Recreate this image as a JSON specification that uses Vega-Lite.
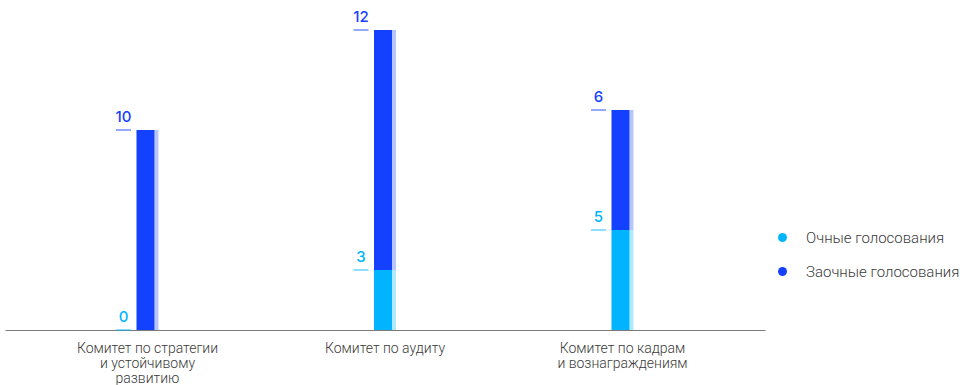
{
  "$schema": "https://vega.github.io/schema/vega-lite/v6.json",
  "autosize": "none",
  "width": 760,
  "height": 300,
  "padding": {"left": 5, "top": 30, "right": 201, "bottom": 55},
  "background": "white",
  "config": {"view": {"stroke": null}},
  "data": {
    "values": [
      {"committee": "Комитет по стратегии|и устойчивому|развитию", "type": "Очные голосования", "ord": 1, "value": 0},
      {"committee": "Комитет по стратегии|и устойчивому|развитию", "type": "Заочные голосования", "ord": 2, "value": 10},
      {"committee": "Комитет по аудиту", "type": "Очные голосования", "ord": 1, "value": 3},
      {"committee": "Комитет по аудиту", "type": "Заочные голосования", "ord": 2, "value": 12},
      {"committee": "Комитет по кадрам|и вознаграждениям", "type": "Очные голосования", "ord": 1, "value": 5},
      {"committee": "Комитет по кадрам|и вознаграждениям", "type": "Заочные голосования", "ord": 2, "value": 6}
    ]
  },
  "transform": [
    {"stack": "value", "groupby": ["committee"], "sort": [{"field": "ord", "order": "ascending"}], "as": ["y0", "y1"]}
  ],
  "encoding": {
    "x": {
      "field": "committee", "type": "nominal", "sort": null,
      "scale": {"paddingInner": 0, "paddingOuter": 0.1},
      "axis": {
        "title": null, "labelAngle": 0, "ticks": false, "domainColor": "#7a7a7a", "domainWidth": 1,
        "labelExpr": "split(datum.value, '|')", "labelFont": "Roboto", "labelFontSize": 14, "labelFontWeight": 300,
        "labelColor": "#3a3a3a", "labelPadding": 11, "labelLineHeight": 15
      }
    },
    "y": {"field": "y1", "type": "quantitative", "scale": {"domain": [0, 15], "nice": false, "zero": true}, "axis": null},
    "color": {
      "field": "type", "type": "nominal",
      "scale": {"domain": ["Очные голосования", "Заочные голосования"], "range": ["#00b4ff", "#1440ff"]},
      "legend": null
    }
  },
  "layer": [
    {
      "mark": {"type": "bar", "width": 18, "xOffset": -2},
      "encoding": {
        "y2": {"field": "y0"},
        "color": {
          "field": "type", "type": "nominal",
          "scale": {"domain": ["Очные голосования", "Заочные голосования"], "range": ["#00b4ff", "#1440ff"]},
          "legend": {
            "title": null, "orient": "none", "legendX": 770, "legendY": 200,
            "symbolType": "circle", "symbolSize": 80, "symbolStrokeWidth": 0,
            "labelFont": "Roboto", "labelFontSize": 15, "labelFontWeight": 300, "labelColor": "#3a3a3a",
            "labelOffset": 16, "rowPadding": 18
          }
        }
      }
    },
    {
      "mark": {"type": "bar", "width": 4, "xOffset": 9, "opacity": 0.3},
      "encoding": {"y2": {"field": "y0"}}
    },
    {
      "mark": {"type": "tick", "size": 15, "thickness": 1.5, "xOffset": -24, "opacity": 0.6},
      "encoding": {}
    },
    {
      "mark": {"type": "text", "xOffset": -24, "dy": -5, "baseline": "bottom", "align": "center", "font": "Inter", "fontSize": 15, "fontWeight": 500},
      "encoding": {"text": {"field": "value", "type": "quantitative"}}
    }
  ]
}
